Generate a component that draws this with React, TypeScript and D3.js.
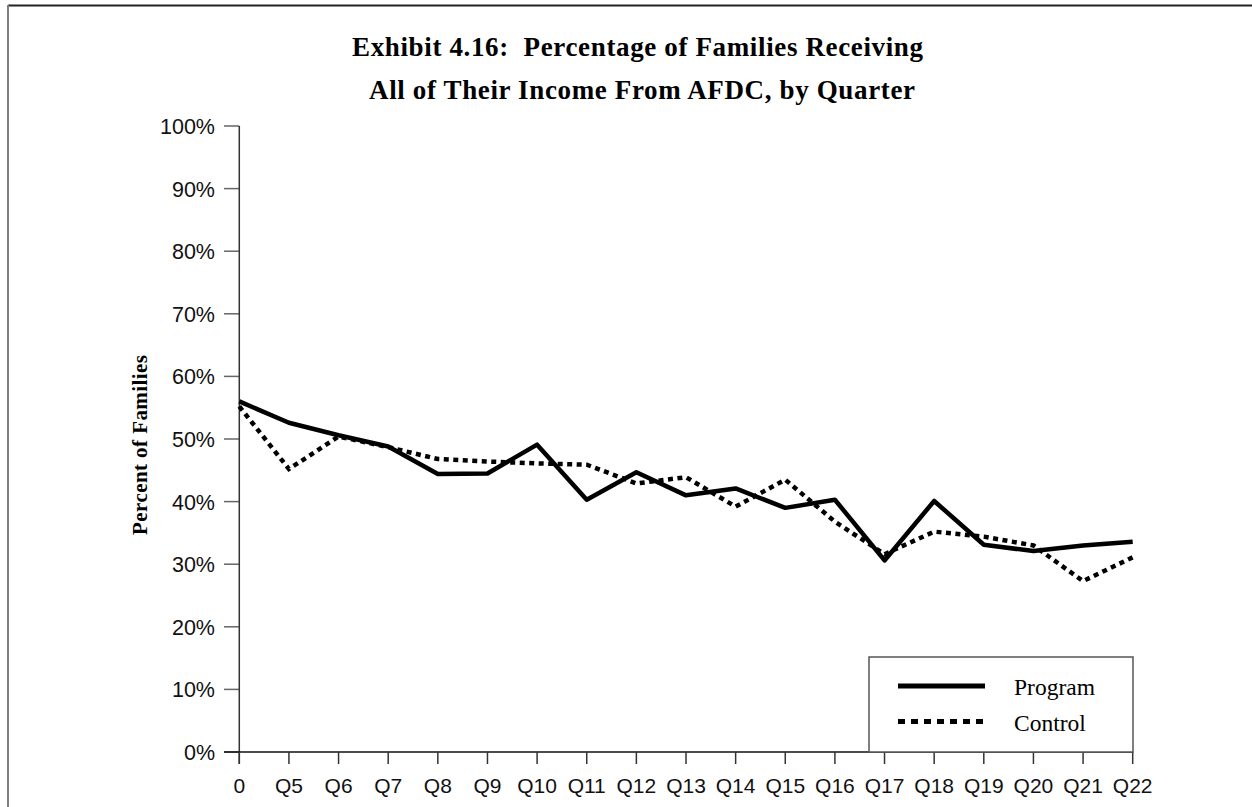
import React from "react";
import * as d3 from "d3";

const categories = ["0","Q5","Q6","Q7","Q8","Q9","Q10","Q11","Q12","Q13","Q14","Q15","Q16","Q17","Q18","Q19","Q20","Q21","Q22"];
const programValues = [56.0, 52.6, 50.6, 48.8, 44.4, 44.5, 49.1, 40.3, 44.7, 41.0, 42.1, 39.0, 40.3, 30.6, 40.1, 33.1, 32.1, 33.0, 33.6];
const controlValues = [55.2, 45.2, 50.4, 48.7, 46.8, 46.4, 46.1, 45.9, 42.9, 43.9, 39.2, 43.5, 36.8, 31.6, 35.2, 34.4, 33.0, 27.3, 31.1];
const yTicks = [0, 10, 20, 30, 40, 50, 60, 70, 80, 90, 100];
const titleLines = ["Exhibit 4.16:  Percentage of Families Receiving", "All of Their Income From AFDC, by Quarter"];
const yAxisTitle = "Percent of Families";
const seriesNames = ["Program", "Control"];

export default function App() {
  const W = 1252, H = 807;
  const x0 = 239.3, x1 = 1132.7, yTop = 126, yBot = 752;
  const x = d3.scalePoint<string>().domain(categories).range([x0, x1]);
  const y = d3.scaleLinear().domain([0, 100]).range([yBot, yTop]);
  const line = d3.line<number>().x((_, i) => x(categories[i]) as number).y(d => y(d));

  const serif = "'Liberation Serif', 'Times New Roman', serif";
  const sans = "'Liberation Sans', Arial, sans-serif";

  return (
    <svg width={W} height={H} style={{ position: "absolute", left: 0, top: 0, display: "block", background: "#fff" }}>
      {/* frame */}
      <line x1={8} y1={5.5} x2={W} y2={5.5} stroke="#222" strokeWidth={2} />
      <line x1={8} y1={5} x2={8} y2={H} stroke="#808080" strokeWidth={2} />

      {/* title */}
      <text x={352} y={56} fontFamily={serif} fontWeight="bold" fontSize={27} textLength={571} lengthAdjust="spacing" style={{ whiteSpace: "pre" }} fill="#000">{titleLines[0]}</text>
      <text x={369} y={99} fontFamily={serif} fontWeight="bold" fontSize={27} textLength={546} lengthAdjust="spacing" style={{ whiteSpace: "pre" }} fill="#000">{titleLines[1]}</text>

      {/* y axis title */}
      <text transform={`translate(146.5,445) rotate(-90)`} textAnchor="middle" fontFamily={serif} fontWeight="bold" fontSize={21} textLength={180} lengthAdjust="spacing" fill="#000">{yAxisTitle}</text>

      {/* y ticks & labels */}
      {yTicks.map(t => (
        <g key={t}>
          <line x1={224} x2={x0} y1={y(t)} y2={y(t)} stroke="#666" strokeWidth={1.5} />
          <text x={215} y={y(t) + 8} textAnchor="end" fontFamily={sans} fontSize={21.5} fill="#111">{t + "%"}</text>
        </g>
      ))}
      {/* y axis */}
      <line x1={x0} x2={x0} y1={yTop} y2={764} stroke="#333" strokeWidth={1.5} />
      {/* x axis */}
      <line x1={224} x2={x1} y1={yBot} y2={yBot} stroke="#111" strokeWidth={1.5} />
      {categories.map(c => (
        <g key={c}>
          <line x1={x(c)} x2={x(c)} y1={yBot} y2={764} stroke="#333" strokeWidth={1.5} />
          <text x={x(c)} y={792.5} textAnchor="middle" fontFamily={sans} fontSize={21} fill="#111">{c}</text>
        </g>
      ))}

      {/* legend box */}
      <rect x={869} y={657} width={264} height={95} fill="#fff" stroke="#555" strokeWidth={1.5} />
      <line x1={898} x2={985} y1={686} y2={686} stroke="#000" strokeWidth={5} />
      <text x={1014} y={695} fontFamily={serif} fontSize={23.5} fill="#000">{seriesNames[0]}</text>
      <line x1={898} x2={985} y1={721.5} y2={721.5} stroke="#000" strokeWidth={5} strokeDasharray="7,6" />
      <text x={1014} y={731} fontFamily={serif} fontSize={23.5} fill="#000">{seriesNames[1]}</text>

      {/* series */}
      <path d={line(controlValues) || ""} fill="none" stroke="#000" strokeWidth={4.5} strokeDasharray="5,4.5" />
      <path d={line(programValues) || ""} fill="none" stroke="#000" strokeWidth={4.5} strokeLinejoin="round" />
    </svg>
  );
}
